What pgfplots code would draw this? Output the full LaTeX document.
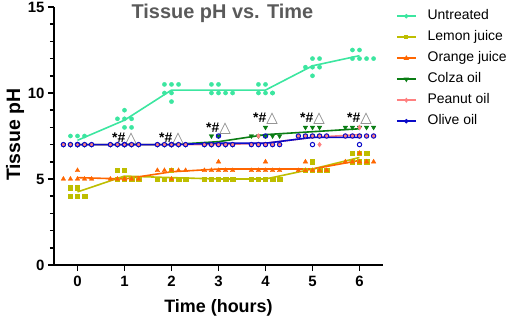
\documentclass[border=0pt]{standalone}
\usepackage{fontspec}
\setmainfont{Liberation Sans}
\newfontfamily\dejavu{DejaVu Sans}
\usepackage{pgfplots}
\pgfplotsset{compat=1.18}
\definecolor{cUnt}{RGB}{60,230,160}
\definecolor{cLem}{RGB}{190,190,0}
\definecolor{cOra}{RGB}{255,102,0}
\definecolor{cCol}{RGB}{10,125,20}
\definecolor{cPea}{RGB}{255,128,128}
\definecolor{cOli}{RGB}{10,10,200}
\definecolor{titlegray}{RGB}{90,90,90}
\newcommand\annot{\bfseries\fontsize{14}{14}\selectfont *\#\textcolor{gray}{\dejavu\mdseries\fontsize{15}{15}\selectfont △}}
\begin{document}
\begin{tikzpicture}
\useasboundingbox (-54bp,-53bp) rectangle (459bp,265bp);
\begin{axis}[
  at={(0,0)}, anchor=south west, scale only axis,
  width=329bp, height=258bp,
  xmin=-0.5, xmax=6.5, ymin=0, ymax=15,
  axis lines=left, axis line style={-, line width=1.5bp},
  xtick={0,1,2,3,4,5,6}, ytick={0,5,10,15},
  minor ytick={1,2,3,4,6,7,8,9,11,12,13,14},
  tick style={black, line width=1.5bp}, tick align=outside,
  major tick length=6bp, minor tick length=4bp,
  ticklabel style={font=\bfseries\fontsize{15}{15}\selectfont},
  xticklabel style={yshift=-2bp},
  /pgf/number format/assume math mode=true,
  clip=false,
  xlabel={Time (hours)},
  ylabel={Tissue pH},
  xlabel style={font=\bfseries\fontsize{18}{18}\selectfont,
    at={(axis description cs:0.5,-0.186)}, anchor=base},
  ylabel style={font=\bfseries\fontsize{19.5}{19.5}\selectfont,
    at={(axis description cs:-0.103,0.505)}, anchor=base, rotate=0},
  legend image code/.code={\draw[mark repeat=2,mark phase=2,#1] plot coordinates {(0bp,0bp) (9.5bp,0bp) (19bp,0bp)};},
  legend cell align=left,
  legend style={draw=none, fill=none, at={(rel axis cs:1.030,0.998)}, anchor=north west,
    font=\fontsize{14}{14}\selectfont,
    nodes={inner sep=0pt, text height=10bp, text depth=3bp},
    row sep=8bp,
    /tikz/every odd column/.append style={column sep=11bp}},
]
% Untreated
\addplot[only marks, mark=*, mark size=2.1bp, mark options={draw=cUnt, fill=cUnt}, forget plot] coordinates {
(-0.15,7.5)(0,7.5)(0.15,7.5)(-0.15,7)(0,7)(0.15,7)
(1,9)(0.85,8.5)(1,8.5)(1.15,8.5)(1,8)(1.15,8)
(1.85,10.5)(2,10.5)(2.15,10.5)(1.85,10)(2,10)(2,9.5)
(2.85,10.5)(3,10.5)(2.85,10)(3,10)(3.15,10)(3.3,10)
(3.85,10.5)(4,10.5)(3.85,10)(4,10)(4.15,10)(4.15,10)
(5,12)(5.15,12)(4.85,11.5)(5,11.5)(5.15,11.5)(5,11)
(5.85,12.5)(6,12.5)(5.85,12)(6,12)(6.15,12)(6.3,12)
};
\addplot[cUnt, line width=1.6bp, no marks, forget plot] coordinates {
(0,7.25)(1,8.42)(2,10.17)(3,10.17)(4,10.17)(5,11.58)(6,12.17)};
% Lemon
\addplot[only marks, mark=square*, mark size=2.2bp, mark options={draw=cLem, fill=cLem}, forget plot] coordinates {
(-0.15,4.5)(0,4.5)(-0.15,4)(0,4)(0.15,4)(0,4.5)
(0.85,5.5)(1,5.5)(0.85,5)(1,5)(1.15,5)(1.3,5)
(1.7,5)(1.85,5)(2,5)(2.15,5)(2.3,5)(2,5.5)
(2.7,5)(2.85,5)(3,5)(3.15,5)(3.3,5)(3,5)
(3.7,5)(3.85,5)(4,5)(4.15,5)(4.3,5)(4,5)
(5,6)(4.85,5.5)(5,5.5)(5.15,5.5)(5.3,5.5)(5,5.5)
(5.85,6.5)(6,6.5)(6.15,6.5)(5.85,6)(6,6)(6.15,6)
};
\addplot[cLem, line width=1.6bp, no marks, forget plot] coordinates {
(0,4.25)(1,5.17)(2,5.08)(3,5.0)(4,5.0)(5,5.58)(6,6.25)};
% Orange
\addplot[only marks, mark=triangle*, mark size=2.6bp, mark options={draw=cOra, fill=cOra}, forget plot] coordinates {
(0,5.5)(-0.3,5)(-0.15,5)(0,5)(0.15,5)(0.3,5)
(0.7,5)(0.85,5)(1,5)(1.15,5)(1.3,5)(1,5)
(1.7,5.5)(1.85,5.5)(2,5.5)(2.15,5.5)(2.3,5.5)(2,5)
(3,6)(2.7,5.5)(2.85,5.5)(3,5.5)(3.15,5.5)(3.3,5.5)
(4,6)(3.7,5.5)(3.85,5.5)(4,5.5)(4.15,5.5)(4.3,5.5)
(4.85,6)(4.7,5.5)(4.85,5.5)(5,5.5)(5.15,5.5)(5.3,5.5)
(6,6.5)(5.7,6)(5.85,6)(6,6)(6.15,6)(6.3,6)
};
\addplot[cOra, line width=1.6bp, no marks, forget plot] coordinates {
(0,5.08)(1,5.0)(2,5.42)(3,5.58)(4,5.58)(5,5.58)(6,6.08)};
% Colza
\addplot[only marks, mark=triangle*, mark size=2.6bp, mark options={draw=cCol, fill=cCol, rotate=180}, forget plot] coordinates {
(-0.3,7)(-0.15,7)(0,7)(0.15,7)(0.3,7)(0,7)
(0.7,7)(0.85,7)(1,7)(1.15,7)(1.3,7)(1,7)
(1.7,7)(1.85,7)(2,7)(2.15,7)(2.3,7)(2,7)
(2.85,7.5)(3,7.5)(2.7,7)(2.85,7)(3.15,7)(3.3,7)
(4,8)(3.7,7.5)(3.85,7.5)(4,7.5)(4.15,7.5)(4.3,7.5)
(4.85,8)(5,8)(5.15,8)(4.85,7.5)(5,7.5)(5.15,7.5)
(5.7,8)(5.85,8)(6,8)(6.15,8)(6.3,8)(6,7.5)
};
\addplot[cCol, line width=1.6bp, no marks, forget plot] coordinates {
(0,7)(1,7)(2,7)(3,7.17)(4,7.58)(5,7.75)(6,7.92)};
% Peanut
\addplot[only marks, mark=diamond*, mark size=2.4bp, mark options={draw=cPea, fill=cPea}, forget plot] coordinates {
(-0.3,7)(-0.15,7)(0,7)(0.15,7)(0.3,7)(0,7)
(0.7,7)(0.85,7)(1,7)(1.15,7)(1.3,7)(1,7)
(1.7,7)(1.85,7)(2,7)(2.15,7)(2.3,7)(2,7)
(2.7,7)(2.85,7)(3,7)(3.15,7)(3.3,7)(3,7)
(3.85,7.5)(3.7,7)(3.85,7)(4,7)(4.15,7)(4.3,7)
(4.7,7.5)(4.85,7.5)(5,7.5)(5.15,7.5)(5.3,7.5)(5.15,7)
(6,8)(5.7,7.5)(5.85,7.5)(6,7.5)(6.15,7.5)(6.3,7.5)
};
\addplot[cPea, line width=1.6bp, no marks, forget plot] coordinates {
(0,7)(1,7)(2,7)(3,7)(4,7.08)(5,7.42)(6,7.58)};
% Olive
\addplot[only marks, mark=o, mark size=2.2bp, mark options={draw=cOli, line width=1bp}, forget plot] coordinates {
(-0.3,7)(-0.15,7)(0,7)(0.15,7)(0.3,7)(0,7)
(0.7,7)(0.85,7)(1,7)(1.15,7)(1.3,7)(1,7)
(1.7,7)(1.85,7)(2,7)(2.15,7)(2.3,7)(2,7)
(3,7.5)(2.7,7)(2.85,7)(3,7)(3.15,7)(3.3,7)
(4,7.5)(3.7,7)(3.85,7)(4,7)(4.15,7)(4.3,7)
(4.7,7.5)(4.85,7.5)(5,7.5)(5.15,7.5)(5.3,7.5)(5,7)
(5.7,7.5)(5.85,7.5)(6,7.5)(6.15,7.5)(6.3,7.5)(6,7)
};
\addplot[cOli, line width=1.6bp, no marks, forget plot] coordinates {
(0,7)(1,7)(2,7)(3,7.08)(4,7.08)(5,7.42)(6,7.42)};
% title
\node[anchor=base, font=\bfseries\fontsize{20}{20}\selectfont, text=titlegray]
  at (rel axis cs:0.512,0.955) {Tissue pH vs. Time};
% annotations
\node[anchor=base, inner sep=0pt] at (axis cs:1,7.15) {\annot};
\node[anchor=base, inner sep=0pt] at (axis cs:2,7.15) {\annot};
\node[anchor=base, inner sep=0pt] at (axis cs:3,7.73) {\annot};
\node[anchor=base, inner sep=0pt] at (axis cs:4,8.26) {\annot};
\node[anchor=base, inner sep=0pt] at (axis cs:5,8.26) {\annot};
\node[anchor=base, inner sep=0pt] at (axis cs:6,8.26) {\annot};
% legend
\addlegendimage{cUnt, line width=1.6bp, mark=*, mark size=1.3bp}
\addlegendentry{Untreated}
\addlegendimage{cLem, line width=1.6bp, mark=square*, mark size=1.3bp}
\addlegendentry{Lemon juice}
\addlegendimage{cOra, line width=1.6bp, mark=triangle*, mark size=1.5bp}
\addlegendentry{Orange juice}
\addlegendimage{cCol, line width=1.6bp, mark=triangle*, mark size=1.5bp, mark options={rotate=180}}
\addlegendentry{Colza oil}
\addlegendimage{cPea, line width=1.6bp, mark=diamond*, mark size=1.3bp}
\addlegendentry{Peanut oil}
\addlegendimage{cOli, line width=1.6bp, mark=*, mark size=1.3bp}
\addlegendentry{Olive oil}
\end{axis}
\end{tikzpicture}
\end{document}
